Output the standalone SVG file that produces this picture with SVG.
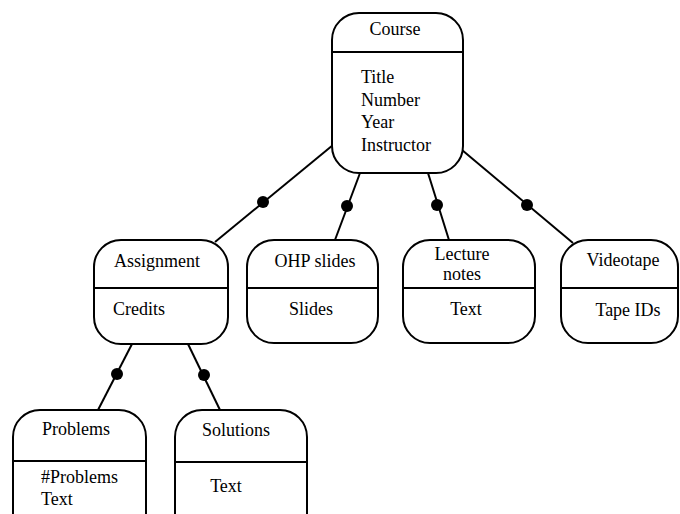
<svg xmlns="http://www.w3.org/2000/svg" width="680" height="514" viewBox="0 0 680 514">
<style>
.box{fill:#fff;stroke:#000;stroke-width:2}
.div{stroke:#000;stroke-width:2}
text{font-family:'Liberation Serif','DejaVu Serif','Noto Serif',serif;font-size:18px;fill:#000}
.c{text-anchor:middle}
.ln{stroke:#000;stroke-width:2;fill:none}
.dot{fill:#000}
</style>
<rect width="680" height="514" fill="#fff"/>
<g id="connectors">
<line class="ln" x1="333" y1="145" x2="215" y2="242"/><circle class="dot" cx="263" cy="202" r="6"/>
<line class="ln" x1="360" y1="173" x2="335" y2="240"/><circle class="dot" cx="347" cy="206" r="6"/>
<line class="ln" x1="428" y1="173" x2="449" y2="240"/><circle class="dot" cx="437" cy="205" r="6"/>
<line class="ln" x1="462" y1="150" x2="573" y2="243"/><circle class="dot" cx="527" cy="205" r="6"/>
<line class="ln" x1="132" y1="344" x2="98" y2="410"/><circle class="dot" cx="117" cy="374" r="6"/>
<line class="ln" x1="188" y1="344" x2="220" y2="410"/><circle class="dot" cx="204" cy="375" r="6"/>
</g>
<g id="course">
<rect class="box" x="332" y="13" width="131" height="160" rx="27"/>
<line class="div" x1="332" y1="52" x2="463" y2="52"/>
<text class="c" x="395" y="35">Course</text>
<text x="361" y="83">Title</text>
<text x="361" y="105.5">Number</text>
<text x="361" y="128">Year</text>
<text x="361" y="150.5">Instructor</text>
</g>
<g id="assignment">
<rect class="box" x="94" y="240" width="134" height="104" rx="27"/>
<line class="div" x1="94" y1="288" x2="228" y2="288"/>
<text class="c" x="157" y="267">Assignment</text>
<text x="113" y="315">Credits</text>
</g>
<g id="ohp">
<rect class="box" x="247" y="240" width="131" height="103" rx="27"/>
<line class="div" x1="247" y1="288" x2="378" y2="288"/>
<text class="c" x="315" y="267">OHP slides</text>
<text class="c" x="311" y="315">Slides</text>
</g>
<g id="lecture">
<rect class="box" x="403" y="240" width="132" height="103" rx="27"/>
<line class="div" x1="403" y1="288" x2="535" y2="288"/>
<text class="c" x="462" y="260">Lecture</text>
<text class="c" x="462" y="280">notes</text>
<text class="c" x="466" y="315">Text</text>
</g>
<g id="videotape">
<rect class="box" x="561" y="240" width="117" height="103" rx="27"/>
<line class="div" x1="561" y1="288" x2="678" y2="288"/>
<text class="c" x="623" y="266">Videotape</text>
<text class="c" x="628" y="316">Tape IDs</text>
</g>
<g id="problems">
<rect class="box" x="13" y="410" width="133" height="130" rx="27"/>
<line class="div" x1="13" y1="461" x2="146" y2="461"/>
<text x="42" y="435">Problems</text>
<text x="41" y="483">#Problems</text>
<text x="41" y="505">Text</text>
</g>
<g id="solutions">
<rect class="box" x="175" y="410" width="132" height="130" rx="27"/>
<line class="div" x1="175" y1="462" x2="307" y2="462"/>
<text class="c" x="236" y="436">Solutions</text>
<text class="c" x="226" y="492">Text</text>
</g>
</svg>
